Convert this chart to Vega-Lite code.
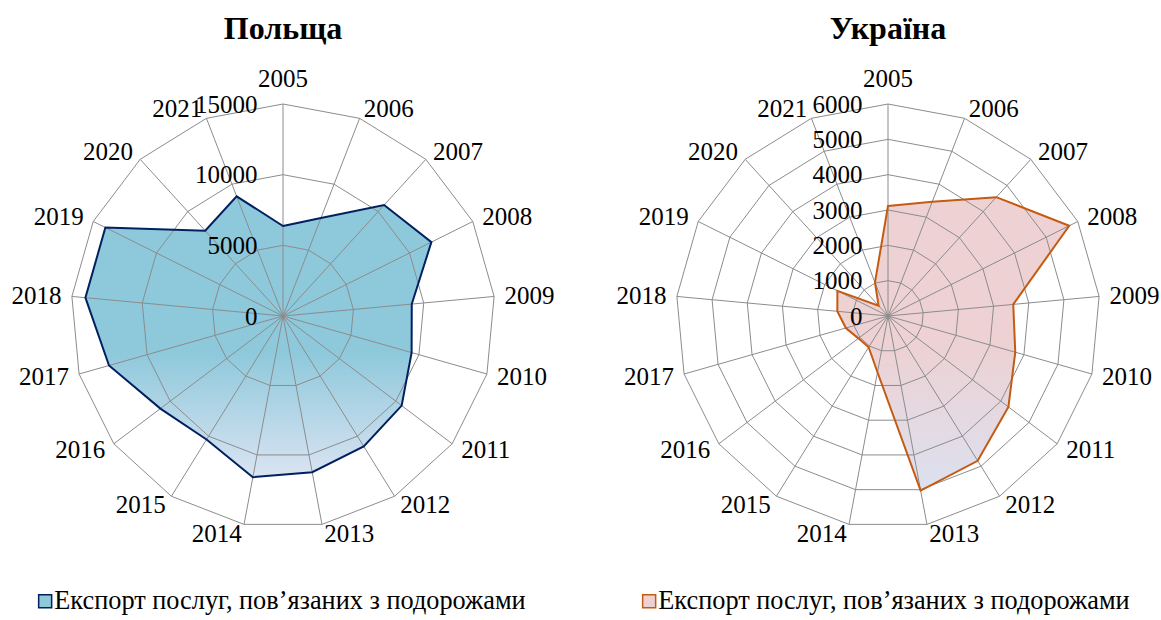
{
"$schema":"https://vega.github.io/schema/vega-lite/v6.json",
"background":"white",
"padding":{"left":11,"top":12,"right":0,"bottom":0},
"config":{"view":{"stroke":null},"font":"Liberation Serif"},
"datasets":{
"pl":[
{"year":"2005","v":6370},{"year":"2006","v":7430},{"year":"2007","v":10620},{"year":"2008","v":11730},
{"year":"2009","v":9150},{"year":"2010","v":9460},{"year":"2011","v":10520},{"year":"2012","v":10850},
{"year":"2013","v":11240},{"year":"2014","v":11600},{"year":"2015","v":10280},{"year":"2016","v":10870},
{"year":"2017","v":12800},{"year":"2018","v":14040},{"year":"2019","v":14040},{"year":"2020","v":8170},
{"year":"2021","v":9080}],
"ua":[
{"year":"2005","v":3115},{"year":"2006","v":3470},{"year":"2007","v":4550},{"year":"2008","v":5730},
{"year":"2009","v":3560},{"year":"2010","v":3745},{"year":"2011","v":4270},{"year":"2012","v":4820},
{"year":"2013","v":5025},{"year":"2014","v":1620},{"year":"2015","v":1040},{"year":"2016","v":1050},
{"year":"2017","v":1240},{"year":"2018","v":1440},{"year":"2019","v":1600},{"year":"2020","v":395},
{"year":"2021","v":1020}]
},
"spacing":61,
"resolve":{"scale":{"color":"independent","x":"independent","y":"independent"},"legend":{"color":"independent"}},
"hconcat":[
{
"title":{"text":"Польща","font":"Liberation Serif","fontSize":32,"fontWeight":"bold","color":"black","offset":21},
"width":424,"height":424,
"data":{"name":"pl"},
"transform":[{"calculate":"(toNumber(datum.year)-2005)*2*PI/17","as":"a"}],
"encoding":{
"x":{"field":"px","type":"quantitative","scale":{"domain":[-15000,15000],"nice":false,"zero":false},"axis":null},
"y":{"field":"py","type":"quantitative","scale":{"domain":[-15000,15000],"nice":false,"zero":false},
"axis":{"values":[0,5000,10000,15000],"format":"d","offset":-186,"ticks":false,"domain":false,"grid":false,"labelPadding":0,"title":null,"labelFont":"Liberation Serif","labelFontSize":25,"labelColor":"black","labelOverlap":false,"labelFlush":false,"zindex":2}}
},
"layer":[
{"transform":[{"calculate":"datum.v*sin(datum.a)","as":"px"},{"calculate":"datum.v*cos(datum.a)","as":"py"}],
"mark":{"type":"line","interpolate":"linear-closed","strokeWidth":0,"fill":{"gradient":"linear","x1":0,"y1":0,"x2":0,"y2":1,"stops":[{"offset":0,"color":"#8DC8DB"},{"offset":0.55,"color":"#8DC8DB"},{"offset":1,"color":"#DAE4F2"}]}},
"encoding":{"order":{"field":"a","type":"quantitative"}}},
{"transform":[{"calculate":"[5000,10000,15000]","as":"lv"},{"flatten":["lv"]},{"calculate":"datum.lv*sin(datum.a)","as":"px"},{"calculate":"datum.lv*cos(datum.a)","as":"py"}],
"mark":{"type":"line","interpolate":"linear-closed","color":"#8C8C8C","strokeWidth":1},
"encoding":{"detail":{"field":"lv","type":"nominal"},"order":{"field":"a","type":"quantitative"}}},
{"transform":[{"calculate":"0","as":"px"},{"calculate":"0","as":"py"},{"calculate":"15000*sin(datum.a)","as":"ox"},{"calculate":"15000*cos(datum.a)","as":"oy"}],
"mark":{"type":"rule","color":"#8C8C8C","strokeWidth":1},
"encoding":{"x2":{"field":"ox"},"y2":{"field":"oy"}}},
{"transform":[{"calculate":"datum.v*sin(datum.a)","as":"px"},{"calculate":"datum.v*cos(datum.a)","as":"py"}],
"mark":{"type":"line","interpolate":"linear-closed","strokeWidth":2},
"encoding":{"order":{"field":"a","type":"quantitative"},
"color":{"datum":"Експорт послуг, пов’язаних з подорожами","type":"nominal","scale":{"range":["#002060"]},
"legend":{"orient":"none","legendX":-39,"legendY":484,"title":null,"symbolType":"square","symbolSize":169,"symbolFillColor":"#8DC8DB","symbolStrokeColor":"#002060","symbolStrokeWidth":1.5,"labelFont":"Liberation Serif","labelFontSize":26.3,"labelColor":"black","labelLimit":0,"labelOffset":-4,
"encode":{"symbols":{"update":{"fill":{"value":"#8DC8DB"},"stroke":{"value":"#002060"},"strokeWidth":{"value":1.5},"opacity":{"value":1}}}}}}}},
{"transform":[{"calculate":"(datum.year=='2005' ? 0 : 222*sin(datum.a) + (datum.a < PI ? 25.5 : -25.5))*15000/212","as":"px"},{"calculate":"(datum.year=='2005' ? 237 : 222*cos(datum.a))*15000/212","as":"py"}],
"mark":{"type":"text","font":"Liberation Serif","fontSize":25,"color":"black","align":"center","baseline":"middle"},
"encoding":{"text":{"field":"year","type":"nominal"}}}
]
},
{
"title":{"text":"Україна","font":"Liberation Serif","fontSize":32,"fontWeight":"bold","color":"black","offset":21},
"width":424,"height":424,
"data":{"name":"ua"},
"transform":[{"calculate":"(toNumber(datum.year)-2005)*2*PI/17","as":"a"}],
"encoding":{
"x":{"field":"px","type":"quantitative","scale":{"domain":[-6000,6000],"nice":false,"zero":false},"axis":null},
"y":{"field":"py","type":"quantitative","scale":{"domain":[-6000,6000],"nice":false,"zero":false},
"axis":{"values":[0,1000,2000,3000,4000,5000,6000],"format":"d","offset":-186,"ticks":false,"domain":false,"grid":false,"labelPadding":0,"title":null,"labelFont":"Liberation Serif","labelFontSize":25,"labelColor":"black","labelOverlap":false,"labelFlush":false,"zindex":2}}
},
"layer":[
{"transform":[{"calculate":"datum.v*sin(datum.a)","as":"px"},{"calculate":"datum.v*cos(datum.a)","as":"py"}],
"mark":{"type":"line","interpolate":"linear-closed","strokeWidth":0,"fill":{"gradient":"linear","x1":0,"y1":0,"x2":0,"y2":1,"stops":[{"offset":0,"color":"#EDD1D3"},{"offset":0.5,"color":"#EDD1D3"},{"offset":1,"color":"#DCE1F0"}]}},
"encoding":{"order":{"field":"a","type":"quantitative"}}},
{"transform":[{"calculate":"[1000,2000,3000,4000,5000,6000]","as":"lv"},{"flatten":["lv"]},{"calculate":"datum.lv*sin(datum.a)","as":"px"},{"calculate":"datum.lv*cos(datum.a)","as":"py"}],
"mark":{"type":"line","interpolate":"linear-closed","color":"#8C8C8C","strokeWidth":1},
"encoding":{"detail":{"field":"lv","type":"nominal"},"order":{"field":"a","type":"quantitative"}}},
{"transform":[{"calculate":"0","as":"px"},{"calculate":"0","as":"py"},{"calculate":"6000*sin(datum.a)","as":"ox"},{"calculate":"6000*cos(datum.a)","as":"oy"}],
"mark":{"type":"rule","color":"#8C8C8C","strokeWidth":1},
"encoding":{"x2":{"field":"ox"},"y2":{"field":"oy"}}},
{"transform":[{"calculate":"datum.v*sin(datum.a)","as":"px"},{"calculate":"datum.v*cos(datum.a)","as":"py"}],
"mark":{"type":"line","interpolate":"linear-closed","strokeWidth":2},
"encoding":{"order":{"field":"a","type":"quantitative"},
"color":{"datum":"Експорт послуг, пов’язаних з подорожами","type":"nominal","scale":{"range":["#C55A11"]},
"legend":{"orient":"none","legendX":-40,"legendY":484,"title":null,"symbolType":"square","symbolSize":169,"symbolFillColor":"#EDD1D3","symbolStrokeColor":"#C55A11","symbolStrokeWidth":1.5,"labelFont":"Liberation Serif","labelFontSize":26.3,"labelColor":"black","labelLimit":0,"labelOffset":-4,
"encode":{"symbols":{"update":{"fill":{"value":"#EDD1D3"},"stroke":{"value":"#C55A11"},"strokeWidth":{"value":1.5},"opacity":{"value":1}}}}}}}},
{"transform":[{"calculate":"(datum.year=='2005' ? 0 : 222*sin(datum.a) + (datum.a < PI ? 25.5 : -25.5))*6000/212","as":"px"},{"calculate":"(datum.year=='2005' ? 237 : 222*cos(datum.a))*6000/212","as":"py"}],
"mark":{"type":"text","font":"Liberation Serif","fontSize":25,"color":"black","align":"center","baseline":"middle"},
"encoding":{"text":{"field":"year","type":"nominal"}}}
]
}
]
}
